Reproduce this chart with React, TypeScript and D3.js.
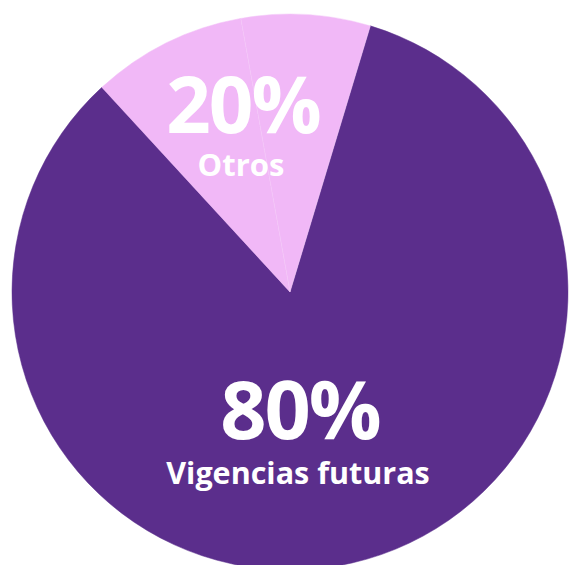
import React from "react";
import * as d3 from "d3";

const categories = ["Vigencias futuras", "Otros A", "Otros B"];
const sliceValues = [83.5, 9.0, 7.5];
const colors = ["#5B2E8C", "#F1B8F7", "#F1B8F7"];
const labelValues = ["80%", "20%"];
const labelNames = ["Vigencias futuras", "Otros"];

const W = 569;
const H = 565;
const cx = 290;
const cy = 292;
const R = 278;
const startDeg = 16.8;

export default function App() {
  const pie = d3
    .pie<number>()
    .sort(null)
    .value((d) => d)
    .startAngle((startDeg * Math.PI) / 180)
    .endAngle((startDeg * Math.PI) / 180 + 2 * Math.PI);
  const arcs = pie(sliceValues);
  const arc = d3.arc<d3.PieArcDatum<number>>().innerRadius(0).outerRadius(R);
  const font = "'Open Sans', sans-serif";
  return (
    <svg
      width={W}
      height={H}
      style={{ position: "absolute", left: 0, top: 0, background: "#fff" }}
    >
      <g transform={`translate(${cx},${cy})`}>
        {arcs.map((a, i) => (
          <path
            key={categories[i]}
            d={arc(a) || ""}
            fill={colors[i]}
            stroke={i === 2 ? "#F5CCF9" : colors[i]}
            strokeWidth={0.5}
          />
        ))}
      </g>
      <g fill="#fff" fontFamily={font} fontWeight={700} textAnchor="middle">
        <text x={243} y={133} fontSize={78} letterSpacing={-2}>
          {labelValues[1]}
        </text>
        <text x={241} y={176} fontSize={31}>
          {labelNames[1]}
        </text>
        <text x={300} y={439} fontSize={81} letterSpacing={-2}>
          {labelValues[0]}
        </text>
        <text x={298} y={484} fontSize={30.5}>
          {labelNames[0]}
        </text>
      </g>
    </svg>
  );
}
